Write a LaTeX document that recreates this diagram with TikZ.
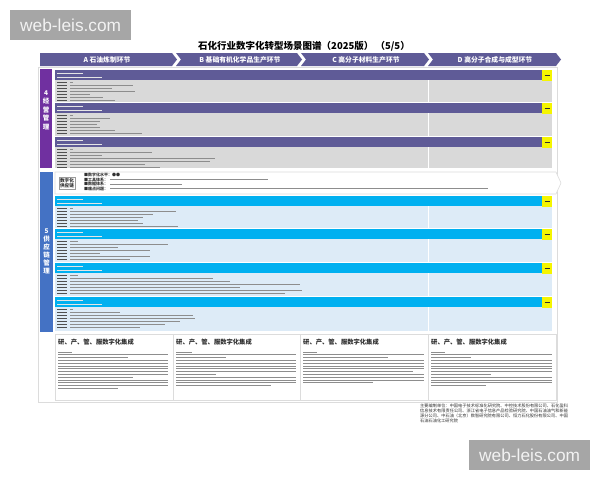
\documentclass[tikz,border=0pt]{standalone}
\usepackage{fontspec}
\setmainfont{Noto Sans CJK SC}
\newfontfamily\webfont{Liberation Sans}
\XeTeXlinebreaklocale "zh"
\XeTeXlinebreakskip = 0pt plus 1pt
\usepackage{tikz}
\usetikzlibrary{calc}
\definecolor{hdr}{HTML}{5F5B97}
\definecolor{secP}{HTML}{7030A0}
\definecolor{secB}{HTML}{4472C4}
\definecolor{bodyP}{HTML}{D9D9D9}
\definecolor{rowC}{HTML}{00B0F0}
\definecolor{bodyC}{HTML}{DDEBF7}
\definecolor{tag}{HTML}{F5F500}
\definecolor{mark}{HTML}{A6A6A6}
\definecolor{ink}{HTML}{303030}
\definecolor{frame}{HTML}{DCDCDC}
\tikzset{
  chev/.style={fill=hdr, draw=none},
  chevlab/.style={text=white, font=\bfseries\fontsize{6.8}{7}\selectfont},
  seclab/.style={text=white, align=center, font=\bfseries\fontsize{6.5}{8.5}\selectfont},
  hdrP/.style={fill=hdr},
  hdrC/.style={fill=rowC},
  tagbox/.style={fill=tag},
  tagmark/.style={draw=ink, line width=0.8pt},
  divider/.style={draw=white, line width=0.6pt},
  hdrtext/.style={draw=white!80!gray, line width=0.8pt},
  labink/.style={draw=ink!85, line width=0.9pt},
  fineink/.style={draw=ink!55, line width=0.8pt},
  cell/.style={fill=white, draw=frame, line width=0.6pt},
  inttitle/.style={font=\bfseries\fontsize{6.3}{7}\selectfont, text=ink, inner sep=0pt},
  wmark/.style={fill=mark, text=white!95!black, font=\webfont\fontsize{17.3}{18}\selectfont,
    minimum width=121pt, minimum height=30pt, inner sep=0pt}
}
% one scenario row: header bar, body, tag, fine print
\newcommand{\scnrow}[5]{%
  \fill[#3] (55,#1) rectangle (552,{#1+10});
  \fill[#4] (55,{#1+10}) rectangle (552,#2);
  \draw[divider] (428,{#1+10}) -- (428,#2);
  \draw[hdrtext] (57,{#1+3}) -- ++(26,0);
  \draw[hdrtext] (57,{#1+7}) -- ++(45,0);
  \fill[tagbox] (542,{#1-0.5}) rectangle (552,{#1+10.5});
  \draw[tagmark] (544.5,{#1+5}) -- ++(5,0);
  \foreach \len [count=\k from 0] in {#5} {
    \draw[labink] (57,{#1+12.5+\k*3}) -- ++(10,0);
    \draw[fineink] (70,{#1+12.5+\k*3}) -- ++(\len,0);
  }}
% one integration box at the bottom
\newcommand{\intbox}[4]{%
  \draw[cell] (#1,334) rectangle (#2,400);
  \node[inttitle, anchor=west] (#4) at ({#1+3},342) {研、产、管、服数字化集成};
  \foreach \len [count=\k from 0] in {#3} {
    \draw[fineink, line width=0.75pt] ({#1+3},{352+\k*2.8}) -- ++(\len,0);
  }}

\begin{document}
\begin{tikzpicture}[x=1pt,y=-1pt]
  \useasboundingbox (0,0) rectangle (600,480);
  \fill[white] (0,0) rectangle (600,480);

  % watermarks
  \node[wmark, anchor=north west] (wmTop) at (10,10) {web-leis.com};
  \node[wmark, anchor=north west] (wmBot) at (469,440) {web-leis.com};

  % title
  \node[font=\bfseries\fontsize{9.5}{10}\selectfont, text=black] (title) at (304,46)
    {石化行业数字化转型场景图谱（2025版）\ （5/5）};

  % process chevrons
  \fill[chev] (40,53) -- (172,53) -- (177,59.5) -- (172,66) -- (40,66) -- cycle;
  \fill[chev] (176,53) -- (297,53) -- (302,59.5) -- (297,66) -- (176,66) -- (181,59.5) -- cycle;
  \fill[chev] (301,53) -- (424,53) -- (429,59.5) -- (424,66) -- (301,66) -- (306,59.5) -- cycle;
  \fill[chev] (428,53) -- (556,53) -- (561,59.5) -- (556,66) -- (428,66) -- (433,59.5) -- cycle;
  \node[chevlab] (chevA) at (107,59.5) {A 石油炼制环节};
  \node[chevlab] (chevB) at (240,59.5) {B 基础有机化学品生产环节};
  \node[chevlab] (chevC) at (366,59.5) {C 高分子材料生产环节};
  \node[chevlab] (chevD) at (495,59.5) {D 高分子合成与成型环节};

  % panel
  \draw[frame, fill=white, line width=0.6pt] (38,67) rectangle (557,402);

  % section 4
  \fill[secP] (40,69) rectangle (52,168);
  \node[seclab] (sec4) at (46,110) {4\\经\\营\\管\\理};
  \scnrow{70}{102}{hdrP}{bodyP}{3,63,42,65,20,33,45}
  \scnrow{103}{136}{hdrP}{bodyP}{3,40,30,27,30,45,72}
  \scnrow{137}{168}{hdrP}{bodyP}{3,82,32,145,140,75,90}

  % section 5
  \fill[secB] (40,172) rectangle (53,332);
  \node[seclab, font=\bfseries\fontsize{6.5}{8}\selectfont] (sec5) at (46.5,251) {5\\供\\应\\链\\管\\理};
  \draw[cell] (55,172) -- (556,172) -- (561,183) -- (556,194) -- (55,194) -- cycle;
  \node[draw=frame!70!black, line width=0.4pt, inner sep=1pt, align=center, text=ink,
    font=\bfseries\fontsize{4.6}{5.2}\selectfont] (scm) at (67,183) {数字化\\供应链};
  \foreach \lab/\yy/\len in {■数字化水平：●●/175/0, ■工具体系：/179.5/158,
                             ■数据体系：/184/72, ■痛点问题：/188.5/378} {
    \node[anchor=west, inner sep=0pt, text=ink, font=\bfseries\fontsize{4}{4.2}\selectfont]
      at (84,\yy) {\lab};
    \draw[fineink] (110,\yy) -- ++(\len,0);
  }
  \scnrow{196}{228}{hdrC}{bodyC}{3,106,83,73,68,73,108}
  \scnrow{229}{262}{hdrC}{bodyC}{8,98,48,80,30,80,60}
  \scnrow{263}{296}{hdrC}{bodyC}{8,143,160,230,170,232,215}
  \scnrow{297}{331}{hdrC}{bodyC}{3,50,123,125,110,95,70}

  % integration boxes
  \intbox{55}{173}{14,110,70,110,110,110,110,110,110,75,110,110,110,60}{intA}
  \intbox{173}{300}{16,120,50,120,120,120,120,120,40,120,120,120,95}{intB}
  \intbox{300}{428}{14,121,85,121,121,121,121,110,121,121,121,70}{intC}
  \intbox{428}{556}{14,121,40,121,121,121,121,121,60,121,121,121,55}{intD}

  % editors
  \node[anchor=north west, text width=148pt, inner sep=0pt, text=ink,
    font=\fontsize{4.2}{5}\selectfont] (editors) at (420,403.5)
    {主要编制单位：中国电子技术标准化研究院、中控技术股份有限公司、石化盈科信息技术有限责任公司、浙江省电子信息产品检验研究院、中国石油油气和新能源分公司、中石油（北京）数智研究院有限公司、恒力石化股份有限公司、中国石油石油化工研究院};
\end{tikzpicture}
\end{document}
